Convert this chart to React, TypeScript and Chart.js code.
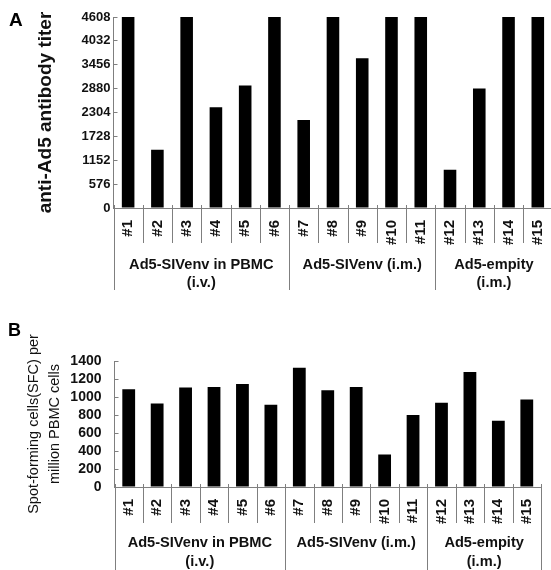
import React, { useEffect, useRef } from 'react';
import { Chart, registerables } from 'chart.js';

Chart.register(...registerables);

// ---------- data ----------
const categories = ['#1', '#2', '#3', '#4', '#5', '#6', '#7', '#8', '#9', '#10', '#11', '#12', '#13', '#14', '#15'];
const titerValues = [4608, 1405, 4608, 2430, 2958, 4608, 2124, 4608, 3615, 4608, 4608, 921, 2886, 4608, 4608];
const sfcValues = [1085, 928, 1105, 1112, 1145, 915, 1326, 1075, 1112, 360, 799, 935, 1277, 736, 972];
const titerTicks = [0, 576, 1152, 1728, 2304, 2880, 3456, 4032, 4608];
const sfcTicks = [0, 200, 400, 600, 800, 1000, 1200, 1400];
const groupSizes = [6, 5, 4];
const groupLabelsA = [['Ad5-SIVenv in PBMC', '(i.v.)'], ['Ad5-SIVenv (i.m.)'], ['Ad5-empity', '(i.m.)']];
const groupLabelsB = [['Ad5-SIVenv in PBMC', '(i.v.)'], ['Ad5-SIVenv (i.m.)'], ['Ad5-empity', '(i.m.)']];
const titleA = 'anti-Ad5 antibody titer';
const titleB = ['Spot-forming cells(SFC) per', 'million PBMC cells'];

const FONT = 'Arial, "Liberation Sans", Helvetica, sans-serif';
const GRAY = '#7f7f7f';

type Cfg = {
  values: number[];
  ticks: number[];
  max: number;
  groupLabels: string[][];
  letter: string;
  letterPos: [number, number];
  letterSize: number;
  title: string | string[];
  titleFont: any;
  titlePad: number;
  yFontSize: number;
  yPad: number;
  yWidth: number;
  xHeight: number;
  xPad: number;
  padTop: number;
  padRight: number;
  barPct: number;
  shortLen: number;
  longLen: number;
  line1: number;
  line2: number;
  width: number;
  height: number;
};

function makeGroupPlugin(cfg: Cfg) {
  return {
    id: 'groupAxis',
    afterDraw(chart: any) {
      const ctx = chart.ctx;
      const xs = chart.scales.x;
      const base = Math.round(chart.chartArea.bottom);
      const n = categories.length;
      const w = xs.getPixelForValue(1) - xs.getPixelForValue(0);
      const boundary = (i: number) => (i < n ? xs.getPixelForValue(i) - w / 2 : xs.getPixelForValue(n - 1) + w / 2);
      const groupEdges = new Set<number>();
      let acc = 0;
      groupEdges.add(0);
      groupSizes.forEach((s) => { acc += s; groupEdges.add(acc); });
      ctx.save();
      ctx.strokeStyle = GRAY;
      ctx.lineWidth = 1;
      for (let i = 0; i <= n; i++) {
        const px = Math.round(boundary(i)) + 0.5;
        const long = groupEdges.has(i);
        ctx.beginPath();
        ctx.moveTo(px, base - 3);
        ctx.lineTo(px, base + (long ? cfg.longLen : cfg.shortLen));
        ctx.stroke();
      }
      // group labels
      ctx.fillStyle = '#111';
      ctx.font = `bold 14.6px ${FONT}`;
      ctx.textAlign = 'center';
      ctx.textBaseline = 'middle';
      let start = 0;
      groupSizes.forEach((s, gi) => {
        const cx = (boundary(start) + boundary(start + s)) / 2;
        const lines = cfg.groupLabels[gi];
        lines.forEach((t, li) => {
          ctx.fillText(t, cx, base + (li === 0 ? cfg.line1 : cfg.line2));
        });
        start += s;
      });
      // panel letter
      ctx.textAlign = 'left';
      ctx.textBaseline = 'top';
      ctx.font = `bold ${cfg.letterSize}px ${FONT}`;
      ctx.fillStyle = '#000';
      ctx.fillText(cfg.letter, cfg.letterPos[0], cfg.letterPos[1]);
      ctx.restore();
    },
  };
}

function BarPanel({ cfg, top }: { cfg: Cfg; top: number }) {
  const ref = useRef<HTMLCanvasElement | null>(null);
  useEffect(() => {
    if (!ref.current) return;
    const chart = new Chart(ref.current, {
      type: 'bar',
      data: {
        labels: categories,
        datasets: [
          {
            data: cfg.values,
            backgroundColor: '#000',
            borderWidth: 0,
            barPercentage: cfg.barPct,
            categoryPercentage: 1,
          },
        ],
      },
      options: {
        responsive: false,
        animation: false,
        devicePixelRatio: 1,
        layout: { padding: { top: cfg.padTop, right: cfg.padRight, left: 0, bottom: 0 } },
        plugins: { legend: { display: false }, tooltip: { enabled: false } },
        scales: {
          x: {
            type: 'category',
            offset: true,
            grid: { display: false },
            border: { display: true, color: GRAY, width: 1 },
            ticks: {
              autoSkip: false,
              maxRotation: 90,
              minRotation: 90,
              padding: cfg.xPad,
              color: '#111',
              font: { family: FONT, size: 15, weight: 'bold' },
            },
            afterFit: (s: any) => { s.height = cfg.xHeight; },
          },
          y: {
            min: 0,
            max: cfg.max,
            afterBuildTicks: (s: any) => { s.ticks = cfg.ticks.map((v) => ({ value: v })); },
            grid: { drawOnChartArea: false, drawTicks: true, tickLength: -4, color: GRAY },
            border: { display: true, color: GRAY, width: 1 },
            ticks: {
              autoSkip: false,
              padding: cfg.yPad,
              color: '#111',
              font: { family: FONT, size: cfg.yFontSize, weight: 'bold' },
              callback: (v: any) => String(v),
            },
            title: {
              display: true,
              text: cfg.title as any,
              color: '#111',
              font: cfg.titleFont,
              padding: { top: cfg.titlePad, bottom: 0 },
            },
            afterFit: (s: any) => { s.width = cfg.yWidth; },
          },
        },
      },
      plugins: [makeGroupPlugin(cfg)],
    } as any);
    return () => chart.destroy();
  }, [cfg]);
  return (
    <canvas
      ref={ref}
      width={cfg.width}
      height={cfg.height}
      style={{ position: 'absolute', left: 0, top, width: cfg.width, height: cfg.height }}
    />
  );
}

const cfgA: Cfg = {
  values: titerValues,
  ticks: titerTicks,
  max: 4608,
  groupLabels: groupLabelsA,
  letter: 'A',
  letterPos: [9, 11],
  letterSize: 19,
  title: titleA,
  titleFont: { family: FONT, size: 19, weight: 'bold', lineHeight: 1.2 },
  titlePad: 34,
  yFontSize: 13,
  yPad: 7,
  yWidth: 113.5,
  xHeight: 87,
  xPad: 4,
  padTop: 17,
  padRight: 6,
  barPct: 0.43,
  shortLen: 35,
  longLen: 82,
  line1: 57,
  line2: 75,
  width: 560,
  height: 295,
};

const cfgB: Cfg = {
  values: sfcValues,
  ticks: sfcTicks,
  max: 1400,
  groupLabels: groupLabelsB,
  letter: 'B',
  letterPos: [8, 22],
  letterSize: 18,
  title: titleB,
  titleFont: { family: FONT, size: 14.5, weight: 'normal', lineHeight: 1.45 },
  titlePad: 23,
  yFontSize: 14,
  yPad: 17,
  yWidth: 114.5,
  xHeight: 83,
  xPad: 4,
  padTop: 61,
  padRight: 10,
  barPct: 0.45,
  shortLen: 36,
  longLen: 90,
  line1: 56,
  line2: 74.5,
  width: 551,
  height: 270,
};

export default function App() {
  return (
    <div style={{ position: 'absolute', left: 0, top: 0, width: 551, height: 570, overflow: 'hidden', background: '#fff' }}>
      <BarPanel cfg={cfgA} top={0} />
      <BarPanel cfg={cfgB} top={300} />
    </div>
  );
}
